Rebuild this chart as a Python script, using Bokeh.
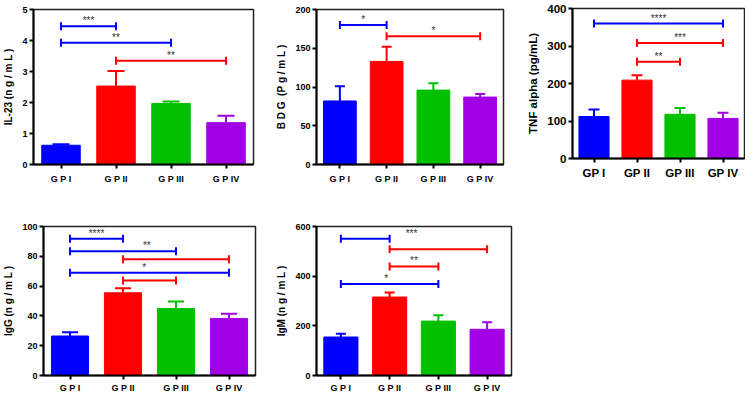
import numpy as np
from bokeh.plotting import figure
from bokeh.layouts import column, row
from bokeh.models import Range1d, FixedTicker, ColumnDataSource
from bokeh.embed import file_html
from bokeh.resources import INLINE
from bokeh.core.properties import value

# ---------------- data ----------------
NB = "\u00a0"
groups = ["GP I", "GP II", "GP III", "GP IV"]
groups_spaced = ["G P I", "G P II", "G P III", "G P IV"]
bar_colors = ["#0000FF", "#FF0000", "#00C000", "#A100E4"]

il23_mean = [0.62, 2.53, 1.97, 1.35]
il23_sem = [0.03, 0.49, 0.06, 0.22]
il23_ticks = [0, 1, 2, 3, 4, 5]
il23_brackets = [(0, 1, 4.46, "***"), (0, 2, 3.93, "**"), (1, 3, 3.35, "**")]

bdg_mean = [82, 133, 96, 87]
bdg_sem = [19, 19, 9, 4]
bdg_ticks = [0, 50, 100, 150, 200]
bdg_brackets = [(0, 1, 180, "*"), (1, 3, 165.6, "*")]

tnf_mean = [112, 209, 118, 107]
tnf_sem = [19, 13, 17, 15]
tnf_ticks = [0, 100, 200, 300, 400]
tnf_brackets = [(0, 3, 360, "****"), (1, 3, 308, "***"), (1, 2, 258, "**")]

igg_mean = [26.5, 55.5, 45.0, 38.3]
igg_sem = [2.5, 3.0, 4.7, 3.2]
igg_ticks = [0, 20, 40, 60, 80, 100]
igg_brackets = [(0, 1, 91.8, "****"), (0, 2, 83.4, "**"), (1, 3, 78, ""),
                (0, 3, 69, "*"), (1, 2, 63.7, "")]

igm_mean = [155, 316, 219, 186]
igm_sem = [13, 18, 24, 28]
igm_ticks = [0, 200, 400, 600]
igm_brackets = [(0, 1, 551, "***"), (1, 3, 508, ""), (1, 2, 439, "**"), (0, 2, 368, "*")]

# ---------------- styling ----------------
FONT = "Liberation Sans"
# horizontal shift of star labels from the bracket midpoint (category units)
igg_label_shift = [0, 0.45, 0, -0.1, 0]
igm_label_shift = [0.95, 0, 0, -0.07]


def spaced(s):
    return s.replace(" ", NB)


def panel(means, sems, ticks, ylabel, brackets, xlabels, fs, lfs, width, height,
          borders, cap_px, standoff, shifts=None):
    n = len(groups)
    p = figure(width=width, height=height, x_range=Range1d(0.5, n + 0.5),
               y_range=Range1d(0, ticks[-1]), output_backend="svg",
               toolbar_location=None, frame_align=False,
               min_border_left=borders[0], min_border_right=borders[1],
               min_border_top=borders[2], min_border_bottom=borders[3])
    xs = list(range(1, n + 1))
    src = ColumnDataSource(dict(x=xs, top=means,
                                err=[m + s for m, s in zip(means, sems)],
                                color=bar_colors))
    p.vbar(x="x", top="top", bottom=0, width=0.7, fill_color="color",
           line_color="color", source=src)
    p.segment(x0="x", y0="top", x1="x", y1="err", line_color="color",
              line_width=2, source=src)
    p.scatter(x="x", y="err", marker="dash", size=cap_px, line_color="color",
              line_width=2, source=src)

    if shifts is None:
        shifts = [0] * len(brackets)
    bx0, bx1, by, bc, tx, tl = [], [], [], [], [], []
    for (a, b, y, lab), sh in zip(brackets, shifts):
        bx0.append(xs[a]); bx1.append(xs[b]); by.append(y)
        bc.append(bar_colors[a])
        tx.append((xs[a] + xs[b]) / 2 + sh); tl.append(lab)
    bsrc = ColumnDataSource(dict(x0=bx0, x1=bx1, y=by, c=bc, tx=tx, tl=tl))
    p.segment(x0="x0", y0="y", x1="x1", y1="y", line_color="c", line_width=2,
              source=bsrc)
    p.scatter(x="x0", y="y", marker="dash", angle=np.pi / 2, size=8,
              line_color="c", line_width=2, source=bsrc)
    p.scatter(x="x1", y="y", marker="dash", angle=np.pi / 2, size=8,
              line_color="c", line_width=2, source=bsrc)
    p.text(x="tx", y="y", text="tl", text_align="center",
           text_baseline="bottom", text_font=value(FONT),
           text_font_size="10px", text_color="#333333", source=bsrc)

    p.xgrid.grid_line_color = None
    p.ygrid.grid_line_color = None
    p.outline_line_color = "#222222"
    p.outline_line_width = 1.5
    p.outline_line_alpha = 1

    p.xaxis.ticker = FixedTicker(ticks=xs)
    p.xaxis.major_label_overrides = {x: l for x, l in zip(xs, xlabels)}
    p.yaxis.ticker = FixedTicker(ticks=ticks)
    p.yaxis.axis_label = ylabel
    for ax in (p.xaxis, p.yaxis):
        ax.axis_line_width = 2
        ax.axis_line_color = "black"
        ax.major_tick_line_width = 2
        ax.major_tick_line_color = "black"
        ax.major_tick_out = 4
        ax.major_tick_in = 0
        ax.minor_tick_line_color = None
        ax.major_label_text_font = FONT
        ax.major_label_text_font_style = "bold"
        ax.major_label_text_font_size = f"{fs}px"
        ax.major_label_text_color = "black"
        ax.axis_label_text_font = FONT
        ax.axis_label_text_font_style = "bold"
        ax.axis_label_text_font_size = f"{lfs}px"
        ax.axis_label_text_color = "black"
    p.xaxis.major_label_standoff = standoff
    p.yaxis.major_label_standoff = 2
    p.yaxis.axis_label_standoff = 5
    return p


sp_groups = [spaced(g) for g in groups_spaced]
p1 = panel(il23_mean, il23_sem, il23_ticks, spaced("IL-23 (n g / m L )"), il23_brackets,
           sp_groups, 9, 10, 255, 210, (33, 2, 9, 46), 17, 5)
p2 = panel(bdg_mean, bdg_sem, bdg_ticks, spaced("B D G  (P g / m L )"), bdg_brackets,
           sp_groups, 9, 10, 250, 210, (61, 2, 9, 46), 10, 5)
p3 = panel(tnf_mean, tnf_sem, tnf_ticks, "TNF alpha (pg/mL)", tnf_brackets,
           groups, 11.5, 11.5, 240, 210, (67, 1, 8, 52), 11, 4)
p4 = panel(igg_mean, igg_sem, igg_ticks, spaced("IgG (n g / m L )"), igg_brackets,
           sp_groups, 9, 10, 257, 185, (33, 2, 16, 18), 16, 3, igg_label_shift)
p5 = panel(igm_mean, igm_sem, igm_ticks, spaced("IgM (n g / m L )"), igm_brackets,
           sp_groups, 9, 10, 259, 185, (59, 5, 16, 18), 10, 3, igm_label_shift)

layout = column(row(p1, p2, p3), row(p4, p5))
open("out.html", "w").write(file_html(layout, INLINE))
